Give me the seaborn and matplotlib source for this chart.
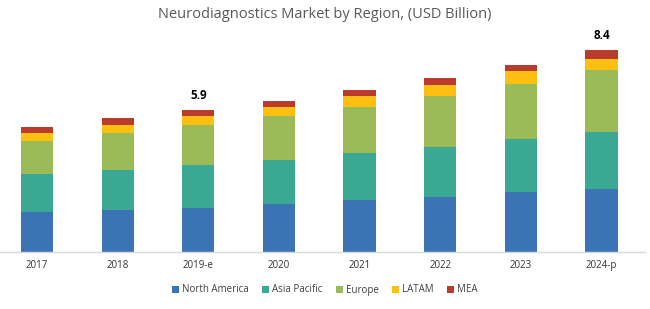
import numpy as np
import pandas as pd
import matplotlib
matplotlib.use("Agg")
import matplotlib.pyplot as plt
from matplotlib.patches import Patch
import seaborn as sns

years = ["2017", "2018", "2019-e", "2020", "2021", "2022", "2023", "2024-p"]
north_america = [1.65, 1.76, 1.85, 2.01, 2.17, 2.30, 2.49, 2.64]
asia_pacific = [1.58, 1.67, 1.79, 1.83, 1.95, 2.08, 2.21, 2.38]
europe = [1.40, 1.53, 1.65, 1.81, 1.94, 2.13, 2.32, 2.56]
latam = [0.33, 0.35, 0.39, 0.38, 0.43, 0.45, 0.52, 0.48]
mea = [0.23, 0.27, 0.22, 0.27, 0.25, 0.30, 0.26, 0.35]
series_names = ["North America", "Asia Pacific", "Europe", "LATAM", "MEA"]
annotations = {"2019-e": "5.9", "2024-p": "8.4"}

colors = ["#3b74b4", "#3aa892", "#9bbb59", "#fdc010", "#b93b2c"]

sns.set_theme(style="white")
plt.rcParams['font.family'] = ['Open Sans', 'DejaVu Sans']

fig = plt.figure(figsize=(6.5, 3.09), dpi=100)
ax = fig.add_axes([0.0, 57 / 309, 645 / 650, 228 / 309])

series = [north_america, asia_pacific, europe, latam, mea]
cum = np.cumsum(np.array(series), axis=0)
df = pd.DataFrame({"year": years})
for i in range(len(series) - 1, -1, -1):
    df["v"] = cum[i]
    sns.barplot(data=df, x="year", y="v", color=colors[i], width=0.4,
                saturation=1, ax=ax, edgecolor="none", linewidth=0)

totals = cum[-1]
for j, y in enumerate(years):
    if y in annotations:
        ax.text(j, totals[j] + 0.35, annotations[y], ha="center", va="bottom",
                fontsize=8.5, fontweight="bold", color="#000000")

ax.set_xlim(-0.46, 7.54)
ax.set_ylim(0, 9.5)
ax.set_xlabel("")
ax.set_ylabel("")
ax.set_yticks([])
for s in ["top", "right", "left"]:
    ax.spines[s].set_visible(False)
ax.spines["bottom"].set_color("#d9d9d9")
ax.spines["bottom"].set_linewidth(1)
ax.tick_params(axis="x", length=0, labelsize=7, colors="#333333", pad=6)

fig.text(0.5, 1 - 14 / 309, "Neurodiagnostics Market by Region, (USD Billion)",
         ha="center", va="center", fontsize=10.5, color="#595959")

handles = [Patch(facecolor=c, edgecolor="none", label=n) for c, n in zip(colors, series_names)]
fig.legend(handles=handles, loc="center", bbox_to_anchor=(0.5, 1 - 290 / 309),
           ncol=5, frameon=False, fontsize=7, handlelength=0.7, handleheight=0.7,
           handletextpad=0.3, columnspacing=1.4, labelcolor="#404040")

fig.savefig("out.png", dpi=100)
